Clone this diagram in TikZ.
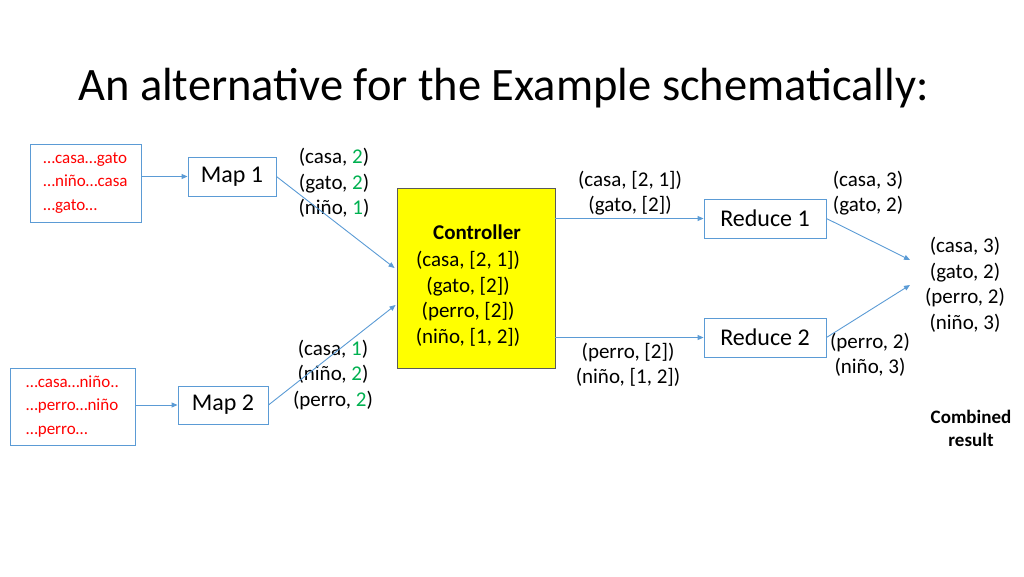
\documentclass[tikz,border=0pt]{standalone}
\usepackage{fontspec}
\setmainfont{Carlito}
\usepackage{xcolor}
\definecolor{edge}{RGB}{91,155,213}
\definecolor{word}{RGB}{255,0,0}
\definecolor{count}{RGB}{0,176,80}
\definecolor{ctrlfill}{RGB}{255,255,0}
\definecolor{ctrledge}{RGB}{90,90,90}
\usetikzlibrary{arrows.meta,calc}
\tikzset{
  box/.style={draw=edge,line width=0.9pt,fill=white,inner sep=0pt,%
    align=center,font=\fontsize{24}{28}\selectfont},
  src/.style={box,align=left,text=word,font=\fontsize{17}{23.5}\selectfont},
  pair/.style={inner sep=0pt,align=center,font=\fontsize{21}{25.5}\selectfont},
  flow/.style={-{Triangle[length=6pt,width=5pt]},line width=0.9pt,draw=edge},
}
\newcommand{\cnt}[1]{\textcolor{count}{#1}}

\begin{document}
\begin{tikzpicture}[x=1pt,y=-1pt]
\useasboundingbox (0,0) rectangle (1024,576);
\node[anchor=base west,inner sep=0pt,font=\fontsize{46.5}{55}\selectfont] (title) at (78,100) {An alternative for the Example schematically:};
% inputs and mappers
\node[src,minimum width=111pt,minimum height=78pt] (in1) at (85.5,183) {…casa…gato\\…niño…casa\\…gato…};
\node[src,minimum width=125pt,minimum height=77pt] (in2) at (72.5,406.5) {…casa…niño..\\…perro…niño\\…perro…};
\node[box,minimum width=88pt,minimum height=39pt] (map1) at (232,176.5) {Map 1};
\node[box,minimum width=90pt,minimum height=38pt] (map2) at (223,405) {Map 2};
\node[pair] (m1out) at (334,183) {(casa, \cnt{2})\\(gato, \cnt{2})\\(niño, \cnt{1})};
\node[pair] (m2out) at (333,375) {(casa, \cnt{1})\\(niño, \cnt{2})\\(perro, \cnt{2})};
% controller
\node[draw=ctrledge,fill=ctrlfill,line width=0.9pt,minimum width=158pt,minimum height=180pt] (ctrl) at (476,278) {};
\node[pair,font=\bfseries\fontsize{21}{25.5}\selectfont] (ctrlhead) at (477,232) {Controller};
\node[pair] (ctrllist) at (468,299) {(casa, [2, 1])\\(gato, [2])\\(perro, [2])\\(niño, [1, 2])};
% reducers
\node[box,minimum width=122pt,minimum height=39pt] (red1) at (765,218.5) {Reduce 1};
\node[box,minimum width=122pt,minimum height=39pt] (red2) at (765,337.5) {Reduce 2};
\node[pair] (r1in) at (630,193) {(casa, [2, 1])\\(gato, [2])};
\node[pair] (r2in) at (628,365) {(perro, [2])\\(niño, [1, 2])};
\node[pair] (r1out) at (868,193) {(casa, 3)\\(gato, 2)};
\node[pair] (r2out) at (870,355) {(perro, 2)\\(niño, 3)};
\node[pair] (res) at (965,285) {(casa, 3)\\(gato, 2)\\(perro, 2)\\(niño, 3)};
\node[pair,font=\bfseries\fontsize{19}{23}\selectfont] (comb) at (971,428) {Combined\\result};
\coordinate (sum1) at (910,260);
\coordinate (sum2) at (910,285);
% connectors
\draw[flow] (in1.east |- map1) -- (map1.west);
\draw[flow] (in2.east |- map2) -- (map2.west);
\draw[flow] (map1.east) -- ($(ctrl.west)+(-2,-10)$);
\draw[flow] (map2.east) -- ($(ctrl.west)+(-1,27)$);
\draw[flow] (ctrl.east |- red1) -- (red1.west);
\draw[flow] (ctrl.east |- red2) -- (red2.west);
\draw[flow] (red1.east) -- (sum1);
\draw[flow] (red2.east) -- (sum2);
\end{tikzpicture}
\end{document}
